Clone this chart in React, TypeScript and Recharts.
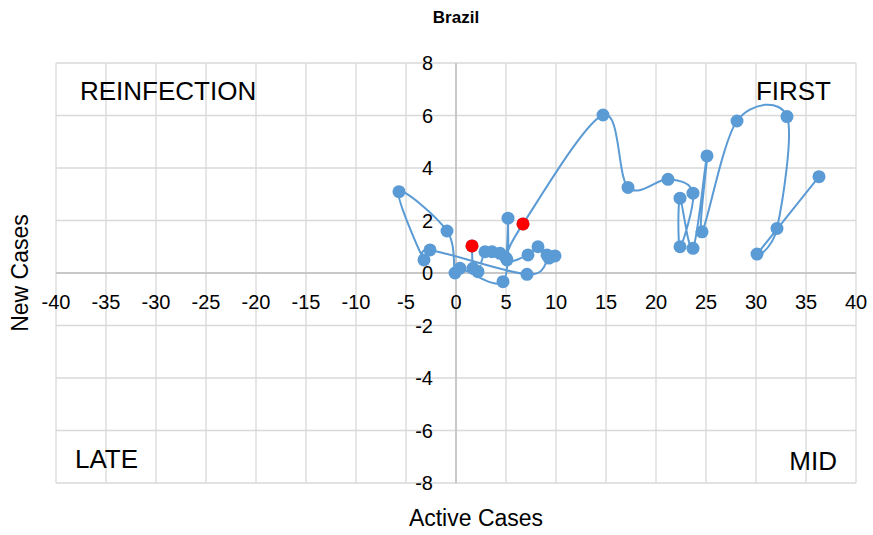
import React from "react";
import {
  ScatterChart,
  Scatter,
  XAxis,
  YAxis,
  CartesianGrid,
  ReferenceLine,
} from "recharts";

// weekly points, in the order the line joins them
const activeCases = [
  1.6, 1.7, 2.2, 2.9, 3.6, 4.4, 5.0, 5.2, 4.7, 0.4, -0.1, -0.9, -5.7, -3.2, -2.6,
  7.1, 9.3, 9.9, 9.1, 8.2, 7.2, 5.1, 6.7, 14.7, 17.2, 21.2, 23.7, 22.4, 22.4,
  23.7, 25.1, 24.6, 28.1, 33.1, 32.1, 30.1, 36.3,
];
const newCases = [
  1.03, 0.18, 0.05, 0.81, 0.81, 0.75, 0.57, 2.09, -0.33, 0.18, 0.0, 1.6, 3.1, 0.5,
  0.88, -0.05, 0.57, 0.65, 0.69, 1.0, 0.69, 0.5, 1.87, 6.02, 3.26, 3.57, 3.04, 1.0,
  2.85, 0.94, 4.46, 1.57, 5.79, 5.96, 1.7, 0.72, 3.67,
];
const highlightActive = [1.6, 6.7];
const highlightNew = [1.03, 1.87];

const xTicks = [-40, -35, -30, -25, -20, -15, -10, -5, 0, 5, 10, 15, 20, 25, 30, 35, 40];
const yTicks = [-8, -6, -4, -2, 0, 2, 4, 6, 8];

const W = 873;
const H = 535;
const AXIS_SIZE = 30;
const PLOT = { top: 63, right: 17, left: 56, bottom: 52 };
const MARGIN = {
  top: PLOT.top,
  right: PLOT.right,
  left: PLOT.left - AXIS_SIZE,
  bottom: PLOT.bottom - AXIS_SIZE,
};
const PLOT_W = W - PLOT.left - PLOT.right;
const PLOT_H = H - PLOT.top - PLOT.bottom;
const ZERO_X = PLOT.left + PLOT_W / 2;
const ZERO_Y = PLOT.top + PLOT_H / 2;
const FONT = '"Liberation Sans", Arial, sans-serif';
const BLUE = "#5b9bd5";

const series = activeCases.map((x, i) => ({ x, y: newCases[i] }));
const highlights = highlightActive.map((x, i) => ({ x, y: highlightNew[i] }));

// Excel-like smoothed line (cardinal spline through every point)
function smoothCurve(context: any) {
  let pts: number[][] = [];
  return {
    areaStart() {},
    areaEnd() {},
    lineStart() {
      pts = [];
    },
    point(x: number, y: number) {
      pts.push([+x, +y]);
    },
    lineEnd() {
      if (!pts.length) return;
      context.moveTo(pts[0][0], pts[0][1]);
      for (let i = 0; i < pts.length - 1; i++) {
        const p0 = pts[i - 1] || pts[i];
        const p1 = pts[i];
        const p2 = pts[i + 1];
        const p3 = pts[i + 2] || p2;
        context.bezierCurveTo(
          p1[0] + (p2[0] - p0[0]) / 6,
          p1[1] + (p2[1] - p0[1]) / 6,
          p2[0] - (p3[0] - p1[0]) / 6,
          p2[1] - (p3[1] - p1[1]) / 6,
          p2[0],
          p2[1]
        );
      }
    },
  };
}

const renderXTick = (props: any) => (
  <text x={props.x} y={ZERO_Y + 36} textAnchor="middle" fontSize={20} fill="#000" fontFamily={FONT}>
    {props.payload.value}
  </text>
);

const renderYTick = (props: any) => (
  <text x={ZERO_X - 23} y={props.y + 7} textAnchor="end" fontSize={20} fill="#000" fontFamily={FONT}>
    {props.payload.value}
  </text>
);

const dot = (color: string) => (p: any) => <circle cx={p.cx} cy={p.cy} r={6.5} fill={color} />;

export default function App() {
  return (
    <div style={{ position: "absolute", left: 0, top: 0, width: W, height: H, background: "#fff" }}>
      <ScatterChart width={W} height={H} margin={MARGIN}>
        <CartesianGrid stroke="#d9d9d9" strokeWidth={1.3} />
        <XAxis
          type="number"
          dataKey="x"
          domain={[-40, 40]}
          ticks={xTicks}
          height={AXIS_SIZE}
          axisLine={false}
          tickLine={false}
          tick={renderXTick}
          interval={0}
        />
        <YAxis
          type="number"
          dataKey="y"
          domain={[-8, 8]}
          ticks={yTicks}
          width={AXIS_SIZE}
          axisLine={false}
          tickLine={false}
          tick={renderYTick}
          interval={0}
        />
        <ReferenceLine x={0} stroke="#bfbfbf" strokeWidth={1.5} />
        <ReferenceLine y={0} stroke="#bfbfbf" strokeWidth={1.5} />
        <Scatter
          data={series}
          fill={BLUE}
          line={{ stroke: BLUE, strokeWidth: 2 }}
          lineType="joint"
          lineJointType={smoothCurve as any}
          shape={dot(BLUE)}
          isAnimationActive={false}
        />
        <Scatter data={highlights} fill="#ff0000" shape={dot("#ff0000")} isAnimationActive={false} />
      </ScatterChart>
      <svg
        width={W}
        height={H}
        style={{ position: "absolute", left: 0, top: 0, pointerEvents: "none" }}
        fontFamily={FONT}
      >
        <text x={ZERO_X} y={23} textAnchor="middle" fontSize={17} fontWeight="bold">
          Brazil
        </text>
        <text x={476} y={526} textAnchor="middle" fontSize={23}>
          Active Cases
        </text>
        <text x={28} y={ZERO_Y} textAnchor="middle" fontSize={23} transform={`rotate(-90 28 ${ZERO_Y})`}>
          New Cases
        </text>
        <text x={80} y={100} fontSize={26}>
          REINFECTION
        </text>
        <text x={831} y={100} fontSize={26} textAnchor="end">
          FIRST
        </text>
        <text x={75} y={468} fontSize={26}>
          LATE
        </text>
        <text x={837} y={470} fontSize={26} textAnchor="end">
          MID
        </text>
      </svg>
    </div>
  );
}
